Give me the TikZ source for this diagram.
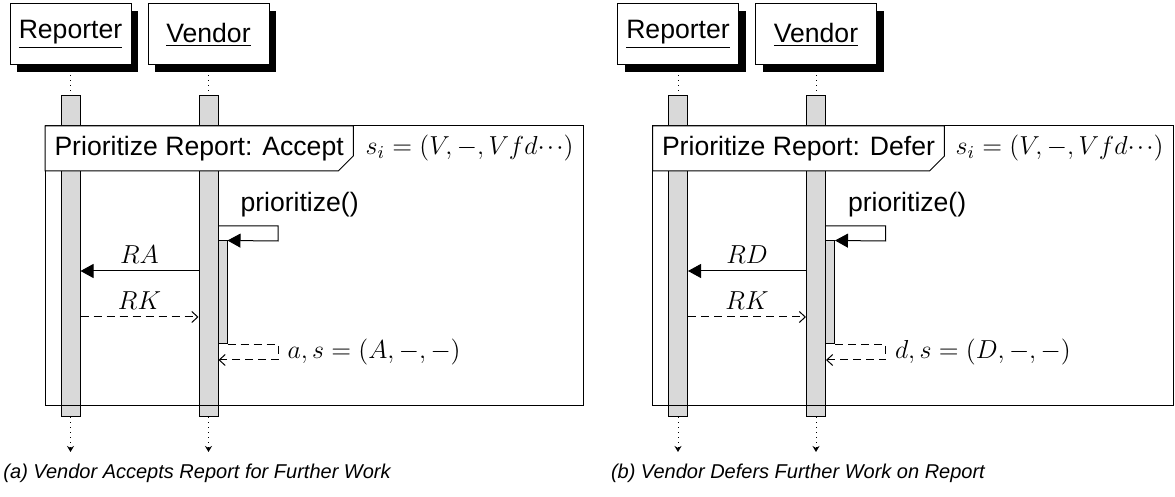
\RequirePackage{fix-cm}
\documentclass[tikz,border=0pt]{standalone}
\usepackage{fontspec}
\setsansfont{Liberation Sans}
\usetikzlibrary{arrows.meta,calc,shadows}
\tikzset{
  obj/.style={draw, fill=white, minimum width=60.5pt, minimum height=30.5pt, inner sep=0pt,
    font=\sffamily\fontsize{13.3}{15}\selectfont,
    drop shadow={shadow xshift=3.5pt, shadow yshift=-3.5pt, fill=black, opacity=1}},
  bar/.style={draw, fill=black!15, minimum width=9.5pt, inner sep=0pt},
  lifedot/.style={dotted},
  msg/.style={-{Triangle[length=6.5pt,width=7pt]}},
  ret/.style={dash pattern=on 4pt off 2.5pt, -{Straight Barb[length=3pt,width=5.5pt]}},
  mlabel/.style={font=\fontsize{13}{15}\selectfont, inner sep=0pt},
  sflabel/.style={font=\sffamily\fontsize{13.3}{15}\selectfont, inner sep=0pt},
  labstyle/.style={anchor=north west, minimum height=22pt, inner xsep=4.5pt, inner ysep=0pt,
    font=\sffamily\fontsize{13.3}{15}\selectfont},
  capstyle/.style={font=\sffamily\itshape\fontsize{10}{12}\selectfont, anchor=base west, inner sep=0pt},
}
\newcommand\mydots{\mathord{\cdotp\mkern-1.5mu\cdotp\mkern-1.5mu\cdotp}}
\newcommand\sdpanel[7]{%
\begin{scope}[xshift=#1*0.5pt]
  \node[obj] (#2rep) at (70.5,34.5) {\underline{Reporter}};
  \node[obj] (#2ven) at (208.5,34.5) {\underline{Vendor}};
  \node[bar, minimum height=160.5pt] (#2rb) at (70.5,256.5) {};
  \node[bar, minimum height=160.5pt] (#2vb) at (208.5,256.5) {};
  \draw[lifedot] (#2rep.south) -- (#2rb.north);
  \draw[lifedot] (#2ven.south) -- (#2vb.north);
  \coordinate (#2re) at (70.5,452);
  \coordinate (#2ve) at (208.5,452);
  \draw[lifedot, -{Stealth[length=3pt,width=3.5pt]}] (#2rb.south) -- (#2re);
  \draw[lifedot, -{Stealth[length=3pt,width=3.5pt]}] (#2vb.south) -- (#2ve);
  % frame
  \coordinate (#2ftl) at (45,126);
  \coordinate (#2fbr) at (#3,406);
  \draw (#2ftl) rectangle (#2fbr);
  \node[labstyle] (#2lab) at (#2ftl) {\phantom{#4}};
  \draw[fill=white] (#2lab.north west) -- (#2lab.north east) -- ($(#2lab.south east)+(0,-15)$)
     -- ($(#2lab.south east)+(-15,0)$) -- (#2lab.south west) -- cycle;
  \node[labstyle, anchor=center] at (#2lab.center) {#4};
  \node[mlabel, anchor=east] (#2si) at (#3-9,148) {$s_i = (V, -, V f d\mydots)$};
  % self call
  \node[bar, minimum width=4.5pt, minimum height=51.5pt] (#2nb) at (222.5,292.5) {};
  \node[sflabel, anchor=west] (#2pr) at (240,205) {prioritize()};
  \coordinate (#2s0) at (218,226);
  \draw[msg] (#2s0) -- ++(60,0) -- ++(0,15) -- (#2nb.north east);
  \coordinate (#2r1) at (278,360);
  \draw[ret] (#2nb.south east) -| (#2r1) -- (#2vb.east |- #2r1);
  \node[mlabel, anchor=west] (#2rl) at (287,352) {$#6$};
  % messages
  \coordinate (#2ya) at (0,271);
  \coordinate (#2yk) at (0,317);
  \draw[msg] (#2vb.west |- #2ya) -- (#2rb.east |- #2ya) node[mlabel, midway, above=3.5pt] {$#5$};
  \draw[ret] (#2rb.east |- #2yk) -- (#2vb.west |- #2yk) node[mlabel, midway, above=3.5pt] {$RK$};
  \node[capstyle] (#2cap) at (3,479) {#7};
\end{scope}}
\begin{document}
\begin{tikzpicture}[x=0.5pt,y=-0.5pt,line width=0.5pt]
\useasboundingbox[fill=white] (0,0) rectangle (1175,497);
\sdpanel{0}{a}{583}{Prioritize Report: Accept}{RA}{a, s = (A, -, -)}{(a) Vendor Accepts Report for Further Work}
\sdpanel{607.5}{b}{565.5}{Prioritize Report: Defer}{RD}{d, s = (D, -, -)}{(b) Vendor Defers Further Work on Report}
\end{tikzpicture}
\end{document}
